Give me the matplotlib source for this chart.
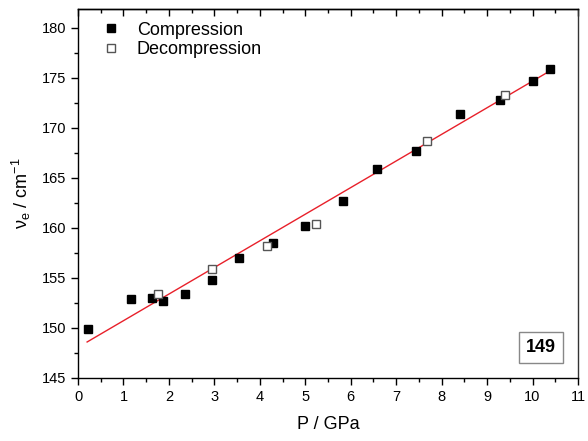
import matplotlib
matplotlib.use("Agg")
import matplotlib.pyplot as plt
from matplotlib.ticker import MultipleLocator

plt.rcParams['font.family'] = ['Liberation Sans', 'DejaVu Sans']
plt.rcParams['mathtext.default'] = 'regular'

comp_P = [0.21, 1.16, 1.63, 1.88, 2.35, 2.95, 3.55, 4.28, 4.99, 5.84, 6.57, 7.43, 8.40, 9.28, 10.02, 10.38]
comp_v = [149.9, 152.9, 153.0, 152.65, 153.4, 154.8, 156.95, 158.5, 160.15, 162.7, 165.9, 167.65, 171.35, 172.75, 174.65, 175.85]
decomp_P = [1.75, 2.95, 4.15, 5.24, 7.67, 9.40]
decomp_v = [153.4, 155.9, 158.15, 160.4, 168.7, 173.3]
fit_P = [0.2, 10.38]
fit_v = [148.6, 175.7]

fig = plt.figure(figsize=(5.88, 4.41), dpi=100)
ax = fig.add_axes([0.1327, 0.1429, 0.8503, 0.8367])

ax.plot(fit_P, fit_v, color='#e8202a', lw=1.0, zorder=2)
ax.plot(comp_P, comp_v, 's', color='black', ms=6, ls='none', label='Compression', zorder=3)
ax.plot(decomp_P, decomp_v, 's', mfc='white', mec='#555555', mew=1.0, ms=6, ls='none',
        label='Decompression', zorder=3)

ax.set_xlim(0, 11)
ax.set_ylim(145, 181.9)
ax.xaxis.set_major_locator(MultipleLocator(1))
ax.xaxis.set_minor_locator(MultipleLocator(0.5))
ax.yaxis.set_major_locator(MultipleLocator(5))
ax.yaxis.set_minor_locator(MultipleLocator(2.5))
ax.tick_params(axis='both', which='major', length=5, width=1, labelsize=10.5, colors='black',
               direction='out')
ax.tick_params(axis='both', which='minor', length=3, width=1, direction='out')
ax.tick_params(axis='x', which='both', top=False)
for s in ax.spines.values():
    s.set_linewidth(1.0)
ax.spines['right'].set_color('#333333')

top = ax.secondary_xaxis('top')
top.xaxis.set_major_locator(MultipleLocator(1))
top.xaxis.set_minor_locator(MultipleLocator(0.5))
top.tick_params(which='major', direction='in', length=5, width=1, labeltop=False)
top.tick_params(which='minor', direction='in', length=3, width=1)
top.spines['top'].set_linewidth(1.0)

ax.set_xlabel('P / GPa', fontsize=13, labelpad=9)
ax.set_ylabel('ν$_e$ / cm$^{-1}$', fontsize=13, labelpad=6)

leg = ax.legend(loc='upper left', frameon=False, fontsize=13, handletextpad=0.8,
                borderaxespad=0.3, labelspacing=0.15, handlelength=1.2, bbox_to_anchor=(0.02, 1.0))

ax.text(0.926, 0.083, '149', transform=ax.transAxes, ha='center', va='center',
        fontsize=13, fontweight='bold',
        bbox=dict(boxstyle='square,pad=0.4', fc='white', ec='#888888', lw=1.0))

fig.savefig('out.png', dpi=100)
